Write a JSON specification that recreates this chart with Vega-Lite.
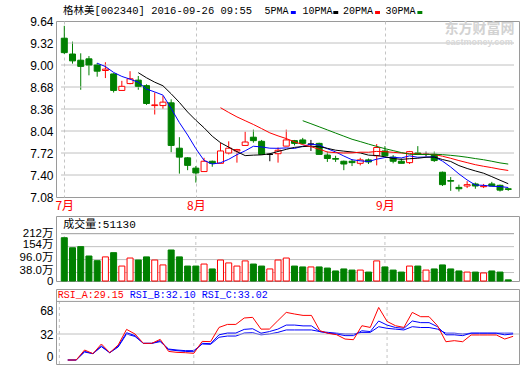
{
  "$schema": "https://vega.github.io/schema/vega-lite/v6.json",
  "background": "white",
  "padding": {"left": 5, "top": 5, "right": 2, "bottom": 0},
  "config": {
    "view": {"stroke": "#9a9a9a", "strokeWidth": 1},
    "axis": {"labelFont": "Liberation Sans, Noto Sans CJK SC", "labelFontSize": 12, "labelColor": "#000000", "ticks": false, "domain": false, "labelPadding": 3, "labelFlush": false, "labelOverlap": false, "tickCount": 50, "title": null},
    "axisY": {"minExtent": 50, "maxExtent": 50, "labelAlign": "right", "offset": 0, "grid": false}
  },
  "datasets": {
    "k": [
      {"i":0,"d":"2016-07-08","o":9.39,"h":9.57,"l":9.16,"c":9.18,"v":194},
      {"i":1,"d":"2016-07-11","o":9.16,"h":9.34,"l":9.02,"c":9.06,"v":149,"ra":0,"rb":0,"rc":0},
      {"i":2,"d":"2016-07-12","o":9.07,"h":9.17,"l":8.64,"c":8.98,"v":154,"ra":0,"rb":0,"rc":0},
      {"i":3,"d":"2016-07-13","o":9.09,"h":9.13,"l":8.85,"c":9.00,"v":112,"ra":12.3,"rb":10.6,"rc":9.8},
      {"i":4,"d":"2016-07-14","o":9.00,"h":9.03,"l":8.83,"c":8.91,"v":91,"ma5":9.026,"ra":7.8,"rb":7.8,"rc":7.8},
      {"i":5,"d":"2016-07-15","o":8.92,"h":9.04,"l":8.81,"c":8.94,"v":108,"ma5":8.978,"ra":19.7,"rb":17.2,"rc":16.4},
      {"i":6,"d":"2016-07-18","o":8.87,"h":8.88,"l":8.60,"c":8.63,"v":127,"ma5":8.892,"ra":9,"rb":9,"rc":9},
      {"i":7,"d":"2016-07-19","o":8.63,"h":8.77,"l":8.63,"c":8.69,"v":67,"ma5":8.834,"ra":18.5,"rb":17,"rc":16},
      {"i":8,"d":"2016-07-20","o":8.73,"h":8.91,"l":8.72,"c":8.80,"v":103,"ma5":8.794,"ra":37.7,"rb":33.6,"rc":32},
      {"i":9,"d":"2016-07-21","o":8.78,"h":8.84,"l":8.64,"c":8.69,"v":94,"ma5":8.750,"ma10":8.888,"ra":32,"rb":30,"rc":29},
      {"i":10,"d":"2016-07-22","o":8.70,"h":8.72,"l":8.42,"c":8.44,"v":108,"ma5":8.650,"ma10":8.814,"ra":20.5,"rb":20.5,"rc":20.5},
      {"i":11,"d":"2016-07-25","o":8.41,"h":8.60,"l":8.28,"c":8.42,"v":94,"ma5":8.608,"ma10":8.750,"ra":20.5,"rb":20.5,"rc":20.5},
      {"i":12,"d":"2016-07-26","o":8.41,"h":8.55,"l":8.36,"c":8.46,"v":72,"ma5":8.562,"ma10":8.698,"ra":25.4,"rb":23.8,"rc":22.6},
      {"i":13,"d":"2016-07-27","o":8.45,"h":8.50,"l":7.73,"c":7.83,"v":139,"ma5":8.368,"ma10":8.581,"ra":10.6,"rb":12.7,"rc":13.5},
      {"i":14,"d":"2016-07-28","o":7.79,"h":7.95,"l":7.42,"c":7.66,"v":108,"ma5":8.162,"ma10":8.456,"ra":9.4,"rb":11.5,"rc":12.3},
      {"i":15,"d":"2016-07-29","o":7.65,"h":7.66,"l":7.47,"c":7.54,"v":67,"ma5":7.982,"ma10":8.316,"ra":9,"rb":10.6,"rc":11.5},
      {"i":16,"d":"2016-08-01","o":7.50,"h":7.53,"l":7.29,"c":7.43,"v":67,"ma5":7.784,"ma10":8.196,"ra":8.2,"rb":10.2,"rc":11.5},
      {"i":17,"d":"2016-08-02","o":7.45,"h":7.65,"l":7.45,"c":7.60,"v":76,"ma5":7.612,"ma10":8.087,"ra":22.9,"rb":20.5,"rc":19.7},
      {"i":18,"d":"2016-08-03","o":7.60,"h":7.61,"l":7.52,"c":7.57,"v":54,"ma5":7.560,"ma10":7.964,"ra":22.6,"rb":20.1,"rc":19.3},
      {"i":19,"d":"2016-08-04","o":7.57,"h":7.87,"l":7.57,"c":7.75,"v":94,"ma5":7.578,"ma10":7.870,"ma20":8.379,"ra":40.1,"rb":31,"rc":28},
      {"i":20,"d":"2016-08-05","o":7.72,"h":7.89,"l":7.70,"c":7.79,"v":81,"ma5":7.628,"ma10":7.805,"ma20":8.310,"ra":43.8,"rb":33.2,"rc":29.5},
      {"i":21,"d":"2016-08-08","o":7.75,"h":7.78,"l":7.58,"c":7.77,"v":67,"ma5":7.696,"ma10":7.740,"ma20":8.245,"ra":43.8,"rb":33.2,"rc":29.5},
      {"i":22,"d":"2016-08-09","o":7.83,"h":8.03,"l":7.83,"c":7.88,"v":90,"ma5":7.752,"ma10":7.682,"ma20":8.190,"ra":51.7,"rb":37.7,"rc":33.2},
      {"i":23,"d":"2016-08-10","o":7.95,"h":8.06,"l":7.87,"c":7.90,"v":76,"ma5":7.818,"ma10":7.689,"ma20":8.135,"ra":52.5,"rb":38.5,"rc":33.6},
      {"i":24,"d":"2016-08-11","o":7.89,"h":7.91,"l":7.70,"c":7.70,"v":67,"ma5":7.808,"ma10":7.693,"ma20":8.075,"ra":38,"rb":33,"rc":31},
      {"i":25,"d":"2016-08-12","o":7.70,"h":7.72,"l":7.60,"c":7.70,"v":54,"ma5":7.790,"ma10":7.709,"ma20":8.013,"ra":38.1,"rb":35,"rc":32},
      {"i":26,"d":"2016-08-15","o":7.71,"h":7.80,"l":7.58,"c":7.76,"v":94,"ma5":7.788,"ma10":7.742,"ma20":7.969,"ra":48.4,"rb":38,"rc":34},
      {"i":27,"d":"2016-08-16","o":7.82,"h":8.06,"l":7.82,"c":7.91,"v":103,"ma5":7.794,"ma10":7.773,"ma20":7.930,"ra":58.6,"rb":43,"rc":37},
      {"i":28,"d":"2016-08-17","o":7.90,"h":7.91,"l":7.83,"c":7.86,"v":67,"ma5":7.786,"ma10":7.802,"ma20":7.883,"ra":56.6,"rb":43,"rc":37},
      {"i":29,"d":"2016-08-18","o":7.91,"h":7.94,"l":7.85,"c":7.86,"v":63,"ma5":7.818,"ma10":7.813,"ma20":7.842,"ma30":8.190,"ra":54.9,"rb":42,"rc":37},
      {"i":30,"d":"2016-08-19","o":7.85,"h":7.91,"l":7.75,"c":7.85,"v":63,"ma5":7.848,"ma10":7.819,"ma20":7.812,"ma30":8.146,"ra":54.9,"rb":42,"rc":37},
      {"i":31,"d":"2016-08-22","o":7.86,"h":7.87,"l":7.70,"c":7.70,"v":63,"ma5":7.836,"ma10":7.812,"ma20":7.776,"ma30":8.101,"ra":36.1,"rb":35,"rc":35},
      {"i":32,"d":"2016-08-23","o":7.69,"h":7.74,"l":7.59,"c":7.64,"v":58,"ma5":7.782,"ma10":7.788,"ma20":7.735,"ma30":8.056,"ra":32.8,"rb":33,"rc":34},
      {"i":33,"d":"2016-08-24","o":7.64,"h":7.68,"l":7.59,"c":7.63,"v":45,"ma5":7.736,"ma10":7.761,"ma20":7.725,"ma30":8.010,"ra":31.1,"rb":32,"rc":33},
      {"i":34,"d":"2016-08-25","o":7.60,"h":7.61,"l":7.47,"c":7.56,"v":54,"ma5":7.676,"ma10":7.747,"ma20":7.720,"ma30":7.965,"ra":25.8,"rb":30,"rc":32},
      {"i":35,"d":"2016-08-26","o":7.60,"h":7.63,"l":7.53,"c":7.58,"v":49,"ma5":7.622,"ma10":7.735,"ma20":7.722,"ma30":7.920,"ra":25,"rb":30,"rc":32},
      {"i":36,"d":"2016-08-29","o":7.57,"h":7.65,"l":7.54,"c":7.62,"v":49,"ma5":7.606,"ma10":7.721,"ma20":7.732,"ma30":7.886,"ra":42.2,"rb":36,"rc":34},
      {"i":37,"d":"2016-08-30","o":7.62,"h":7.64,"l":7.56,"c":7.59,"v":40,"ma5":7.596,"ma10":7.689,"ma20":7.731,"ma30":7.850,"ra":40.1,"rb":35,"rc":34},
      {"i":38,"d":"2016-08-31","o":7.68,"h":7.85,"l":7.54,"c":7.80,"v":90,"ma5":7.630,"ma10":7.683,"ma20":7.743,"ma30":7.816,"ra":64.7,"rb":48,"rc":41},
      {"i":39,"d":"2016-09-01","o":7.75,"h":7.82,"l":7.68,"c":7.68,"v":63,"ma5":7.654,"ma10":7.665,"ma20":7.739,"ma30":7.783,"ra":47.5,"rb":43,"rc":39},
      {"i":40,"d":"2016-09-02","o":7.66,"h":7.69,"l":7.57,"c":7.60,"v":49,"ma5":7.658,"ma10":7.640,"ma20":7.730,"ma30":7.755,"ra":42.2,"rb":40,"rc":38},
      {"i":41,"d":"2016-09-05","o":7.60,"h":7.64,"l":7.57,"c":7.57,"v":40,"ma5":7.648,"ma10":7.627,"ma20":7.720,"ma30":7.726,"ra":40.1,"rb":39,"rc":37},
      {"i":42,"d":"2016-09-06","o":7.58,"h":7.75,"l":7.56,"c":7.74,"v":67,"ma5":7.678,"ma10":7.637,"ma20":7.713,"ma30":7.702,"ra":58.6,"rb":48,"rc":41},
      {"i":43,"d":"2016-09-07","o":7.72,"h":7.82,"l":7.69,"c":7.70,"v":67,"ma5":7.658,"ma10":7.644,"ma20":7.703,"ma30":7.698,"ra":53.3,"rb":46,"rc":40},
      {"i":44,"d":"2016-09-08","o":7.70,"h":7.74,"l":7.67,"c":7.70,"v":49,"ma5":7.662,"ma10":7.658,"ma20":7.703,"ma30":7.699,"ra":53.3,"rb":46,"rc":40},
      {"i":45,"d":"2016-09-09","o":7.70,"h":7.74,"l":7.59,"c":7.61,"v":54,"ma5":7.664,"ma10":7.661,"ma20":7.698,"ma30":7.702,"ra":42.2,"rb":41,"rc":38},
      {"i":46,"d":"2016-09-12","o":7.44,"h":7.45,"l":7.24,"c":7.26,"v":72,"ma5":7.602,"ma10":7.625,"ma20":7.673,"ma30":7.696,"ra":22.5,"rb":31,"rc":33},
      {"i":47,"d":"2016-09-13","o":7.32,"h":7.37,"l":7.17,"c":7.31,"v":54,"ma5":7.516,"ma10":7.597,"ma20":7.643,"ma30":7.686,"ra":23.8,"rb":31,"rc":33},
      {"i":48,"d":"2016-09-14","o":7.22,"h":7.26,"l":7.16,"c":7.20,"v":45,"ma5":7.416,"ma10":7.537,"ma20":7.610,"ma30":7.674,"ra":22.5,"rb":30,"rc":32},
      {"i":49,"d":"2016-09-19","o":7.24,"h":7.31,"l":7.21,"c":7.26,"v":40,"ma5":7.328,"ma10":7.495,"ma20":7.580,"ma30":7.658,"ra":30.8,"rb":33,"rc":33},
      {"i":50,"d":"2016-09-20","o":7.27,"h":7.29,"l":7.20,"c":7.24,"v":40,"ma5":7.254,"ma10":7.459,"ma20":7.550,"ma30":7.639,"ra":30.8,"rb":33,"rc":33},
      {"i":51,"d":"2016-09-21","o":7.23,"h":7.27,"l":7.21,"c":7.24,"v":36,"ma5":7.250,"ma10":7.426,"ma20":7.527,"ma30":7.622,"ra":30.8,"rb":33,"rc":33},
      {"i":52,"d":"2016-09-22","o":7.27,"h":7.30,"l":7.24,"c":7.24,"v":45,"ma5":7.236,"ma10":7.376,"ma20":7.507,"ma30":7.600,"ra":30.8,"rb":33,"rc":33},
      {"i":53,"d":"2016-09-23","o":7.25,"h":7.26,"l":7.16,"c":7.18,"v":40,"ma5":7.232,"ma10":7.324,"ma20":7.484,"ma30":7.576,"ra":25.8,"rb":31,"rc":33},
      {"i":54,"d":"2016-09-26","o":7.20,"h":7.21,"l":7.17,"c":7.19,"v":5.113,"ma5":7.218,"ma10":7.273,"ma20":7.466,"ma30":7.559,"ra":29.15,"rb":32.10,"rc":33.02}
    ]
  },
  "bounds": "flush",
  "spacing": 19,
  "vconcat": [
    {
      "width": 463,
      "height": 176,
      "data": {"name": "k"},
      "encoding": {
        "x": {"field": "i", "type": "quantitative", "title": null,
          "scale": {"domain": [-0.4, 54.7], "nice": false, "zero": false},
          "axis": {"values": [0, 16, 39], "labelExpr": "datum.value == 0 ? '7月' : datum.value == 16 ? '8月' : '9月'", "labelColor": "#ff0000", "labelFont": "Noto Sans CJK SC", "labelFontSize": 12, "labelPadding": 3, "grid": true, "gridDash": [3, 3], "gridColor": "#c4c4c4"}}
      },
      "layer": [
        {"mark": {"type": "rule", "strokeWidth": 1},
          "encoding": {
            "y": {"field": "l", "type": "quantitative", "title": null,
              "scale": {"domain": [7.08, 9.64], "nice": false, "zero": false},
              "axis": {"values": [7.08, 7.40, 7.72, 8.04, 8.36, 8.68, 9.00, 9.32, 9.64], "format": ".2f", "grid": false, "labelOverlap": false, "tickCount": 50, "labelPadding": 3}},
            "y2": {"field": "h"},
            "stroke": {"condition": [{"test": "datum.c > datum.o", "value": "#ff0000"}, {"test": "datum.c == datum.o", "value": "#000000"}], "value": "#008000"}
          }},
        {"transform": [{"filter": "datum.i == 54"}], "mark": {"type": "rule", "color": "#c0c0c0", "strokeWidth": 1}, "encoding": {"x": {"datum": -0.4, "title": null}, "x2": {"datum": 54.7}, "y": {"datum": 7.40, "title": null}}},
        {"transform": [{"filter": "datum.i == 54"}], "mark": {"type": "rule", "color": "#c0c0c0", "strokeWidth": 1}, "encoding": {"x": {"datum": -0.4, "title": null}, "x2": {"datum": 54.7}, "y": {"datum": 7.72, "title": null}}},
        {"transform": [{"filter": "datum.i == 54"}], "mark": {"type": "rule", "color": "#c0c0c0", "strokeWidth": 1}, "encoding": {"x": {"datum": -0.4, "title": null}, "x2": {"datum": 54.7}, "y": {"datum": 8.04, "title": null}}},
        {"transform": [{"filter": "datum.i == 54"}], "mark": {"type": "rule", "color": "#c0c0c0", "strokeWidth": 1}, "encoding": {"x": {"datum": -0.4, "title": null}, "x2": {"datum": 54.7}, "y": {"datum": 8.36, "title": null}}},
        {"transform": [{"filter": "datum.i == 54"}], "mark": {"type": "rule", "color": "#c0c0c0", "strokeWidth": 1}, "encoding": {"x": {"datum": -0.4, "title": null}, "x2": {"datum": 54.7}, "y": {"datum": 8.68, "title": null}}},
        {"transform": [{"filter": "datum.i == 54"}], "mark": {"type": "rule", "color": "#c0c0c0", "strokeWidth": 1}, "encoding": {"x": {"datum": -0.4, "title": null}, "x2": {"datum": 54.7}, "y": {"datum": 9.00, "title": null}}},
        {"transform": [{"filter": "datum.i == 54"}], "mark": {"type": "rule", "color": "#c0c0c0", "strokeWidth": 1}, "encoding": {"x": {"datum": -0.4, "title": null}, "x2": {"datum": 54.7}, "y": {"datum": 9.32, "title": null}}},
        {"transform": [{"filter": "datum.i == 54"}],
          "mark": {"type": "text", "text": "东方财富网", "align": "left", "baseline": "middle", "font": "Noto Sans CJK SC", "fontSize": 14, "fontWeight": "bold", "color": "#d2d2d2"},
          "encoding": {"x": {"datum": 46.25, "title": null}, "y": {"datum": 9.524, "title": null}}},
        {"transform": [{"filter": "datum.i == 54"}],
          "mark": {"type": "text", "text": "eastmoney.com", "align": "left", "baseline": "middle", "font": "Liberation Sans", "fontSize": 9, "fontWeight": "bold", "color": "#d8d8d8"},
          "encoding": {"x": {"datum": 46.37, "title": null}, "y": {"datum": 9.335, "title": null}}},
        {"mark": {"type": "bar", "width": 6, "strokeWidth": 1},
          "encoding": {
            "y": {"field": "o", "type": "quantitative", "title": null},
            "y2": {"field": "c"},
            "fill": {"condition": [{"test": "datum.c > datum.o", "value": "#ffffff"}, {"test": "datum.c == datum.o", "value": "#000000"}], "value": "#008000"},
            "stroke": {"condition": [{"test": "datum.c > datum.o", "value": "#ff0000"}, {"test": "datum.c == datum.o", "value": "#000000"}], "value": "#008000"}
          }},
        {"mark": {"type": "line", "strokeWidth": 1, "color": "#0000ff"}, "encoding": {"y": {"field": "ma5", "type": "quantitative", "title": null}}},
        {"mark": {"type": "line", "strokeWidth": 1, "color": "#000000"}, "encoding": {"y": {"field": "ma10", "type": "quantitative", "title": null}}},
        {"mark": {"type": "line", "strokeWidth": 1, "color": "#ff0000"}, "encoding": {"y": {"field": "ma20", "type": "quantitative", "title": null}}},
        {"mark": {"type": "line", "strokeWidth": 1, "color": "#008000"}, "encoding": {"y": {"field": "ma30", "type": "quantitative", "title": null}}},
        {"transform": [{"filter": "datum.i == 54"}],
          "mark": {"type": "text", "text": "格林美[002340] 2016-09-26 09:55", "align": "left", "baseline": "middle", "font": "Liberation Mono, Noto Sans CJK SC", "fontSize": 10.5, "color": "#000000"},
          "encoding": {"x": {"datum": -0.16, "title": null}, "y": {"datum": 9.785, "title": null}}},
        {"transform": [{"filter": "datum.i == 54"}],
          "mark": {"type": "text", "text": "5PMA", "align": "left", "baseline": "middle", "font": "Liberation Mono", "fontSize": 10, "color": "#000000"},
          "encoding": {"x": {"datum": 24.35, "title": null}, "y": {"datum": 9.785, "title": null}}},
        {"transform": [{"filter": "datum.i == 54"}],
          "mark": {"type": "text", "text": "10PMA", "align": "left", "baseline": "middle", "font": "Liberation Mono", "fontSize": 10, "color": "#000000"},
          "encoding": {"x": {"datum": 28.96, "title": null}, "y": {"datum": 9.785, "title": null}}},
        {"transform": [{"filter": "datum.i == 54"}],
          "mark": {"type": "text", "text": "20PMA", "align": "left", "baseline": "middle", "font": "Liberation Mono", "fontSize": 10, "color": "#000000"},
          "encoding": {"x": {"datum": 33.91, "title": null}, "y": {"datum": 9.785, "title": null}}},
        {"transform": [{"filter": "datum.i == 54"}],
          "mark": {"type": "text", "text": "30PMA", "align": "left", "baseline": "middle", "font": "Liberation Mono", "fontSize": 10, "color": "#000000"},
          "encoding": {"x": {"datum": 39.07, "title": null}, "y": {"datum": 9.785, "title": null}}},
        {"transform": [{"filter": "datum.i == 54"}],
          "mark": {"type": "rule", "strokeWidth": 3, "color": "#0000ff"},
          "encoding": {"x": {"datum": 27.56, "title": null}, "x2": {"datum": 28.16}, "y": {"datum": 9.764, "title": null}}},
        {"transform": [{"filter": "datum.i == 54"}],
          "mark": {"type": "rule", "strokeWidth": 3, "color": "#000000"},
          "encoding": {"x": {"datum": 32.72, "title": null}, "x2": {"datum": 33.32}, "y": {"datum": 9.764, "title": null}}},
        {"transform": [{"filter": "datum.i == 54"}],
          "mark": {"type": "rule", "strokeWidth": 3, "color": "#ff0000"},
          "encoding": {"x": {"datum": 37.8, "title": null}, "x2": {"datum": 38.4}, "y": {"datum": 9.764, "title": null}}},
        {"transform": [{"filter": "datum.i == 54"}],
          "mark": {"type": "rule", "strokeWidth": 3, "color": "#008000"},
          "encoding": {"x": {"datum": 42.95, "title": null}, "x2": {"datum": 43.55}, "y": {"datum": 9.764, "title": null}}}
      ]
    },
    {
      "bounds": "flush",
      "spacing": 8,
      "vconcat": [
        {
          "width": 463,
          "height": 65,
          "data": {"name": "k"},
          "encoding": {
            "x": {"field": "i", "type": "quantitative", "title": null,
              "scale": {"domain": [-0.4, 54.7], "nice": false, "zero": false},
              "axis": null}
          },
          "layer": [
            {"transform": [{"filter": "datum.i == 54"}], "mark": {"type": "rule", "color": "#c0c0c0", "strokeWidth": 1}, "encoding": {"x": {"datum": -0.4, "title": null}, "x2": {"datum": 54.7}, "y": {"datum": 38, "title": null}}},
            {"transform": [{"filter": "datum.i == 54"}], "mark": {"type": "rule", "color": "#c0c0c0", "strokeWidth": 1}, "encoding": {"x": {"datum": -0.4, "title": null}, "x2": {"datum": 54.7}, "y": {"datum": 96, "title": null}}},
            {"transform": [{"filter": "datum.i == 54"}], "mark": {"type": "rule", "color": "#c0c0c0", "strokeWidth": 1}, "encoding": {"x": {"datum": -0.4, "title": null}, "x2": {"datum": 54.7}, "y": {"datum": 154, "title": null}}},
            {"transform": [{"filter": {"field": "d", "oneOf": ["2016-07-08", "2016-08-01", "2016-09-01"]}}],
              "mark": {"type": "rule", "strokeDash": [3, 3], "color": "#c4c4c4"},
              "encoding": {"y": {"datum": 0, "title": null}, "y2": {"datum": 212}}},
            {"mark": {"type": "bar", "width": 6, "strokeWidth": 1},
              "encoding": {
                "y": {"field": "v", "type": "quantitative", "title": null,
                  "scale": {"domain": [0, 291.35], "nice": false},
                  "axis": {"values": [0, 38, 96, 154, 212], "tickCount": 50, "labelOverlap": false, "labelFontSize": 11.5, "grid": false,
                    "labelExpr": "datum.value == 0 ? '0' : datum.value == 38 ? '38.0万' : datum.value == 96 ? '96.0万' : datum.value + '万'",
                    "labelOffset": {"condition": {"test": "datum.value == 0 || datum.value == 212", "value": 0}, "value": -2}}},
                "fill": {"condition": {"test": "datum.c >= datum.o", "value": "#ffffff"}, "value": "#008000"},
                "stroke": {"condition": {"test": "datum.c >= datum.o", "value": "#ff0000"}, "value": "#008000"}
              }},
            {"transform": [{"filter": "datum.i == 54"}],
              "mark": {"type": "rule", "color": "#9a9a9a", "strokeWidth": 1},
              "encoding": {"x": {"datum": -0.4, "title": null}, "x2": {"datum": 54.7}, "y": {"datum": 212, "title": null}}},
            {"transform": [{"filter": "datum.i == 54"}],
              "mark": {"type": "text", "text": "成交量:51130", "align": "left", "baseline": "middle", "font": "Liberation Mono, Noto Sans CJK SC", "fontSize": 11, "color": "#000000"},
              "encoding": {"x": {"datum": -0.13, "title": null}, "y": {"datum": 253.2, "title": null}}}
          ]
        },
        {
          "width": 463,
          "height": 75,
          "data": {"name": "k"},
          "encoding": {
            "x": {"field": "i", "type": "quantitative", "title": null,
              "scale": {"domain": [-0.4, 54.7], "nice": false, "zero": false},
              "axis": null}
          },
          "layer": [
            {"mark": {"type": "line", "strokeWidth": 1, "color": "#0000ff"},
              "encoding": {"y": {"field": "rc", "type": "quantitative", "title": null,
                "scale": {"domain": [-4.92, 87.4], "nice": false, "zero": false},
                "axis": {"values": [0, 32, 68], "tickCount": 50, "labelOverlap": false, "grid": false,
                  "labelOffset": {"condition": [{"test": "datum.value == 0", "value": -4}, {"test": "datum.value == 68", "value": 6}], "value": 0}}}}},
            {"transform": [{"filter": "datum.i == 54"}], "mark": {"type": "rule", "color": "#c0c0c0", "strokeWidth": 1}, "encoding": {"x": {"datum": -0.4, "title": null}, "x2": {"datum": 54.7}, "y": {"datum": 32, "title": null}}},
            {"transform": [{"filter": {"field": "d", "oneOf": ["2016-07-08", "2016-08-01", "2016-09-01"]}}],
              "mark": {"type": "rule", "strokeDash": [3, 3], "color": "#c4c4c4"},
              "encoding": {"y": {"datum": -4.92, "title": null}, "y2": {"datum": 72.12}}},
            {"mark": {"type": "line", "strokeWidth": 1, "color": "#0000ff"}, "encoding": {"y": {"field": "rb", "type": "quantitative", "title": null}}},
            {"mark": {"type": "line", "strokeWidth": 1, "color": "#ff0000"}, "encoding": {"y": {"field": "ra", "type": "quantitative", "title": null}}},
            {"transform": [{"filter": "datum.i == 54"}],
              "mark": {"type": "rule", "color": "#9a9a9a", "strokeWidth": 1},
              "encoding": {"x": {"datum": -0.4, "title": null}, "x2": {"datum": 54.7}, "y": {"datum": 72.12, "title": null}}},
            {"transform": [{"filter": "datum.i == 54"}],
              "mark": {"type": "text", "text": "RSI_A:29.15", "align": "left", "baseline": "middle", "font": "Liberation Mono", "fontSize": 10, "color": "#ff0000"},
              "encoding": {"x": {"datum": -0.2, "title": null}, "y": {"datum": 80.1, "title": null}}},
            {"transform": [{"filter": "datum.i == 54"}],
              "mark": {"type": "text", "text": "RSI_B:32.10", "align": "left", "baseline": "middle", "font": "Liberation Mono", "fontSize": 10, "color": "#0000ff"},
              "encoding": {"x": {"datum": 8.37, "title": null}, "y": {"datum": 80.1, "title": null}}},
            {"transform": [{"filter": "datum.i == 54"}],
              "mark": {"type": "text", "text": "RSI_C:33.02", "align": "left", "baseline": "middle", "font": "Liberation Mono", "fontSize": 10, "color": "#0000ff"},
              "encoding": {"x": {"datum": 16.94, "title": null}, "y": {"datum": 80.1, "title": null}}}
          ]
        }
      ]
    }
  ]
}
